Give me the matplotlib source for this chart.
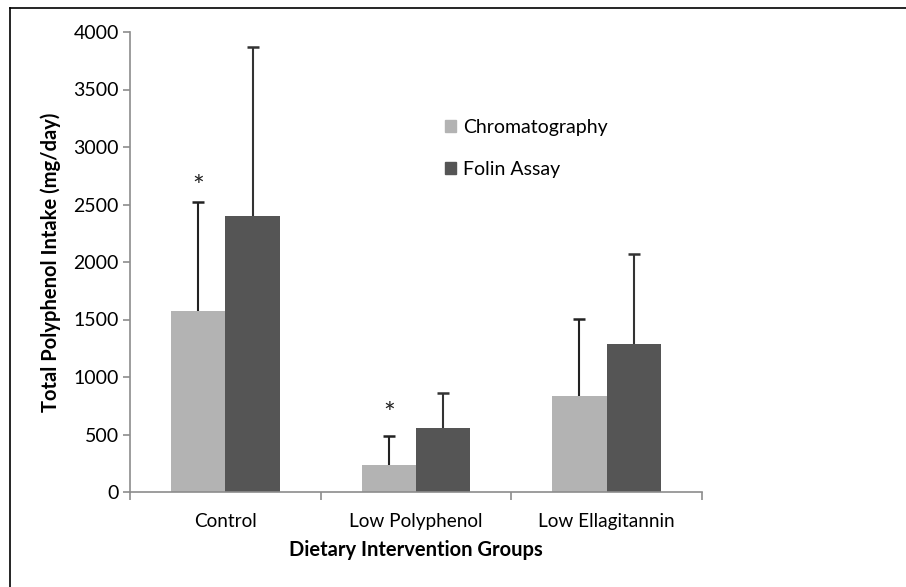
import matplotlib.pyplot as plt
from matplotlib.lines import Line2D
from matplotlib.patches import Patch
import numpy as np

plt.rcParams['font.family'] = ['Lato', 'DejaVu Sans']

# data
groups = ['Control', 'Low Polyphenol', 'Low Ellagitannin']
chromatography = np.array([1574, 235, 835])
chrom_err = np.array([948, 249, 672])
folin = np.array([2400, 554, 1284])
folin_err = np.array([1470, 304, 783])
star_at = [2713, 739, None]  # asterisk height over the chromatography bars

light = '#b3b3b3'
dark = '#555555'
axis_col = '#8c8c8c'

fig = plt.figure(figsize=(9.06, 5.87), dpi=100)
ax = fig.add_axes([130/906, 1-492/587, (702-130)/906, 460/587])

x = np.arange(len(groups))
w = 0.285
ax.bar(x - w/2, chromatography, w, color=light)
ax.bar(x + w/2, folin, w, color=dark)

# upper-only error bars: stem from bar top plus a cap marker at the end
for xs, tops, errs, col in [(x - w/2, chromatography, chrom_err, '#222222'),
                            (x + w/2, folin, folin_err, '#333333')]:
    ax.vlines(xs, tops, tops + errs, color=col, lw=1.5)
    ax.plot(xs, tops + errs, ls='none', marker='_', markersize=9, mew=1.8, color=col)

for i, s in enumerate(star_at):
    if s is not None:
        ax.annotate('*', (x[i] - w/2, s), xytext=(0, -6), textcoords='offset points',
                    ha='center', va='center', fontsize=20, color='#222222')

ax.set_xlim(-0.5, 2.5)
ax.set_ylim(0, 4000)
ax.set_yticks(np.arange(0, 4001, 500))
ax.tick_params(axis='y', labelsize=14, length=5, color=axis_col, width=1.2, pad=3)
ax.set_xticks([-0.5, 0.5, 1.5, 2.5])
ax.set_xticklabels([])
ax.tick_params(axis='x', length=6, color=axis_col, width=1.2)
ax.set_xticks(x, minor=True)
ax.set_xticklabels(groups, minor=True, fontsize=13.7)
ax.tick_params(axis='x', which='minor', length=0, pad=15)

for side in ['top', 'right']:
    ax.spines[side].set_visible(False)
for side in ['left', 'bottom']:
    ax.spines[side].set_color(axis_col)
    ax.spines[side].set_linewidth(1.2)

ax.set_ylabel('Total Polyphenol Intake (mg/day)', fontsize=14.5, fontweight='bold', labelpad=9)
ax.set_xlabel('Dietary Intervention Groups', fontsize=14.5, fontweight='bold', labelpad=7)

handles = [Patch(color=light), Patch(color=dark)]
ax.legend(handles, ['Chromatography', 'Folin Assay'], loc='upper left',
          bbox_to_anchor=(0.551, 0.811), frameon=False, fontsize=14,
          handlelength=0.55, handleheight=0.55, handletextpad=0.35, labelspacing=1.3,
          borderpad=0, borderaxespad=0)

# outer frame, only left and top edges show
fig.add_artist(Line2D([10/906, 10/906], [0, 1-8/587], color='black', lw=1.2))
fig.add_artist(Line2D([10/906, 1], [1-8/587, 1-8/587], color='black', lw=1.2))

fig.savefig('out.png', dpi=100)
